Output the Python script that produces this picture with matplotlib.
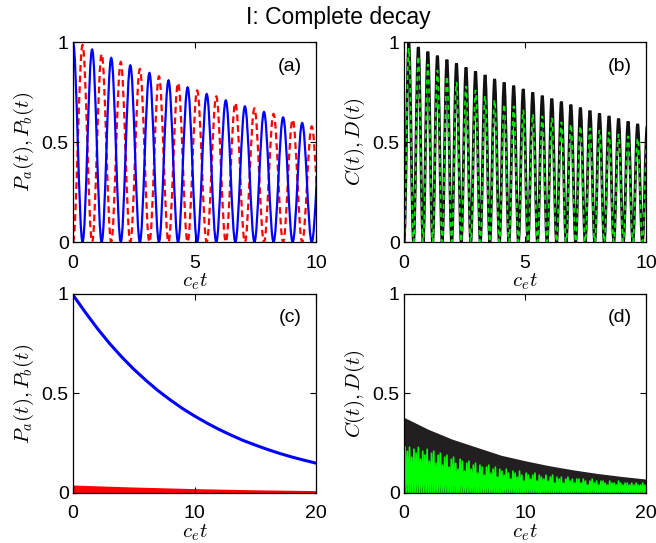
import numpy as np
import matplotlib
matplotlib.use("Agg")
import matplotlib.pyplot as plt
from matplotlib.path import Path
from matplotlib.patches import PathPatch

plt.rcParams['font.family'] = ['Liberation Sans', 'DejaVu Sans']
plt.rcParams['mathtext.fontset'] = 'cm'

# ---- panel (a): populations, extrema (t = c_e t) ----
t_a = [0.000, 0.393, 0.786, 1.179, 1.572, 1.965, 2.358, 2.751, 3.144, 3.537,
       3.930, 4.323, 4.716, 5.109, 5.502, 5.895, 6.288, 6.681, 7.074, 7.467,
       7.860, 8.253, 8.646, 9.039, 9.432, 9.825, 10.218]
pa_a = [1.000, 0, 0.962, 0, 0.920, 0, 0.883, 0, 0.845, 0,
        0.808, 0, 0.773, 0, 0.740, 0, 0.708, 0, 0.678, 0,
        0.650, 0, 0.623, 0, 0.595, 0, 0.570]
pb_a = [0, 0.985, 0, 0.940, 0, 0.900, 0, 0.865, 0, 0.828,
        0, 0.795, 0, 0.758, 0, 0.728, 0, 0.695, 0, 0.668,
        0, 0.640, 0, 0.612, 0, 0.578, 0]

# ---- panel (b): coherences C(t), D(t), extrema ----
t_b = [0.000, 0.197, 0.394, 0.591, 0.788, 0.985, 1.182, 1.379, 1.576, 1.773,
       1.970, 2.167, 2.364, 2.561, 2.758, 2.955, 3.152, 3.349, 3.546, 3.743,
       3.940, 4.137, 4.334, 4.531, 4.728, 4.925, 5.122, 5.319, 5.516, 5.713,
       5.910, 6.107, 6.304, 6.501, 6.698, 6.895, 7.092, 7.289, 7.486, 7.683,
       7.880, 8.077, 8.274, 8.471, 8.668, 8.865, 9.062, 9.259, 9.456, 9.653,
       9.850, 10.047]
c_b = [0, 0.995, 0, 0.975, 0, 0.952, 0, 0.932, 0, 0.912,
       0, 0.893, 0, 0.873, 0, 0.853, 0, 0.835, 0, 0.815,
       0, 0.798, 0, 0.782, 0, 0.765, 0, 0.748, 0, 0.732,
       0, 0.717, 0, 0.702, 0, 0.687, 0, 0.672, 0, 0.657,
       0, 0.643, 0, 0.630, 0, 0.617, 0, 0.603, 0, 0.590,
       0, 0.578]
d_b = [0, 0.970, 0, 0.930, 0, 0.890, 0, 0.860, 0, 0.830,
       0, 0.800, 0, 0.780, 0, 0.760, 0, 0.730, 0, 0.710,
       0, 0.690, 0, 0.680, 0, 0.660, 0, 0.640, 0, 0.630,
       0, 0.620, 0, 0.600, 0, 0.590, 0, 0.580, 0, 0.570,
       0, 0.560, 0, 0.550, 0, 0.540, 0, 0.530, 0, 0.520,
       0, 0.510]

# ---- panel (c): long-time populations ----
t_c = [0, 1, 2, 3, 4, 5, 6, 7, 8, 9, 10, 11, 12, 13, 14, 15, 16, 17, 18, 19, 20]
pa_c = [0.995, 0.909, 0.827, 0.752, 0.684, 0.622, 0.566, 0.514, 0.468, 0.425,
        0.387, 0.352, 0.320, 0.291, 0.264, 0.241, 0.219, 0.199, 0.181, 0.165, 0.150]
t_c_red = [0, 5, 10, 15, 20]
pb_c_top = [0.040, 0.030, 0.022, 0.016, 0.012]

# ---- panel (d): long-time coherences ----
t_d = [0, 2, 4, 6, 8, 10, 12, 14, 16, 18, 20]
c_d_top = [0.380, 0.320, 0.270, 0.230, 0.190, 0.162, 0.137, 0.116, 0.098, 0.083, 0.070]
# ragged tops of the green D(t) oscillations, left to right
d_d_peaks = [0.23, 0.21, 0.23, 0.18, 0.22, 0.20, 0.23, 0.17, 0.21, 0.19,
             0.22, 0.16, 0.20, 0.21, 0.15, 0.19, 0.20, 0.14, 0.18, 0.19,
             0.13, 0.17, 0.18, 0.15, 0.12, 0.17, 0.16, 0.11, 0.15, 0.16,
             0.12, 0.14, 0.15, 0.10, 0.14, 0.13, 0.09, 0.13, 0.14, 0.10,
             0.12, 0.13, 0.08, 0.12, 0.11, 0.09, 0.12, 0.10, 0.07, 0.11,
             0.10, 0.08, 0.11, 0.09, 0.06, 0.10, 0.09, 0.07, 0.09, 0.10,
             0.06, 0.09, 0.08, 0.07, 0.09, 0.06, 0.08, 0.09, 0.05, 0.08,
             0.07, 0.08, 0.05, 0.07, 0.08, 0.06, 0.07, 0.05, 0.07, 0.07,
             0.05, 0.07, 0.06, 0.04, 0.06, 0.07, 0.05, 0.06, 0.04, 0.06,
             0.06, 0.05, 0.04, 0.06, 0.05, 0.05, 0.04, 0.06, 0.05, 0.04,
             0.05, 0.05, 0.04, 0.05, 0.04, 0.05, 0.04, 0.04, 0.05, 0.04]


def smooth_line(ax, t, y, **kw):
    """Draw extrema joined by cubic Bezier pieces with flat tangents."""
    verts = [(t[0], y[0])]
    codes = [Path.MOVETO]
    for i in range(len(t) - 1):
        h = (t[i + 1] - t[i]) * 0.363
        verts += [(t[i] + h, y[i]), (t[i + 1] - h, y[i + 1]), (t[i + 1], y[i + 1])]
        codes += [Path.CURVE4] * 3
    ax.add_patch(PathPatch(Path(verts, codes), fill=False, **kw))


def style_axes(ax, xmax, xticks, label, tag):
    ax.set_xlim(0, xmax)
    ax.set_ylim(0, 1)
    ax.set_xticks(xticks)
    ax.set_xticklabels([str(v) for v in xticks])
    ax.set_yticks([0, 0.5, 1])
    ax.set_yticklabels(['0', '0.5', '1'])
    ax.tick_params(direction='in', top=True, right=True, length=4, width=0.8,
                   labelsize=14)
    ax.tick_params(axis='x', pad=9)
    ax.tick_params(axis='y', pad=3)
    for s in ax.spines.values():
        s.set_linewidth(0.9)
    ax.set_xlabel(r'$c_e t$', fontsize=15, labelpad=0)
    ax.set_ylabel(label, fontsize=15, labelpad=4)
    ax.text(0.893, 0.88, tag, transform=ax.transAxes, fontsize=14,
            ha='center', va='center')


fig = plt.figure(figsize=(6.56, 5.43), dpi=100)
ax_a = fig.add_axes([0.1113, 0.5543, 0.3704, 0.3683])
ax_b = fig.add_axes([0.6159, 0.5543, 0.3689, 0.3683])
ax_c = fig.add_axes([0.1113, 0.0921, 0.3704, 0.3665])
ax_d = fig.add_axes([0.6159, 0.0921, 0.3689, 0.3665])

# (a)
smooth_line(ax_a, t_a, pb_a, edgecolor='#ff0000', linewidth=1.6,
            linestyle=(0, (3.0, 1.8)))
smooth_line(ax_a, t_a, pa_a, edgecolor='#0000ff', linewidth=1.6)
style_axes(ax_a, 10, [0, 5, 10], r'$P_a(t), P_b(t)$', '(a)')

# (b)
smooth_line(ax_b, t_b, c_b, edgecolor='#111111', linewidth=2.0)
smooth_line(ax_b, t_b, d_b, edgecolor='#00ee00', linewidth=1.2,
            linestyle=(0, (3.0, 2.4)))
style_axes(ax_b, 10, [0, 5, 10], r'$C(t), D(t)$', '(b)')

# (c)
ax_c.fill_between(t_c_red, 0, pb_c_top, color='#ff0000', linewidth=0)
ax_c.plot(t_c, pa_c, color='#0000ff', linewidth=2.2)
style_axes(ax_c, 20, [0, 10, 20], r'$P_a(t), P_b(t)$', '(c)')

# (d)
ax_d.fill_between(t_d, 0, c_d_top, color='#231f20', linewidth=0)
n = len(d_d_peaks)
t_zig = np.linspace(0, 20, 2 * n + 1)
y_zig = np.zeros(2 * n + 1)
y_zig[1::2] = d_d_peaks
ax_d.plot(t_zig, y_zig, color='#00ff00', linewidth=1.2)
style_axes(ax_d, 20, [0, 10, 20], r'$C(t), D(t)$', '(d)')

fig.text(338 / 656, 0.968, 'I: Complete decay', ha='center', va='center',
         fontsize=16.5)

fig.savefig('out.png', dpi=100)
